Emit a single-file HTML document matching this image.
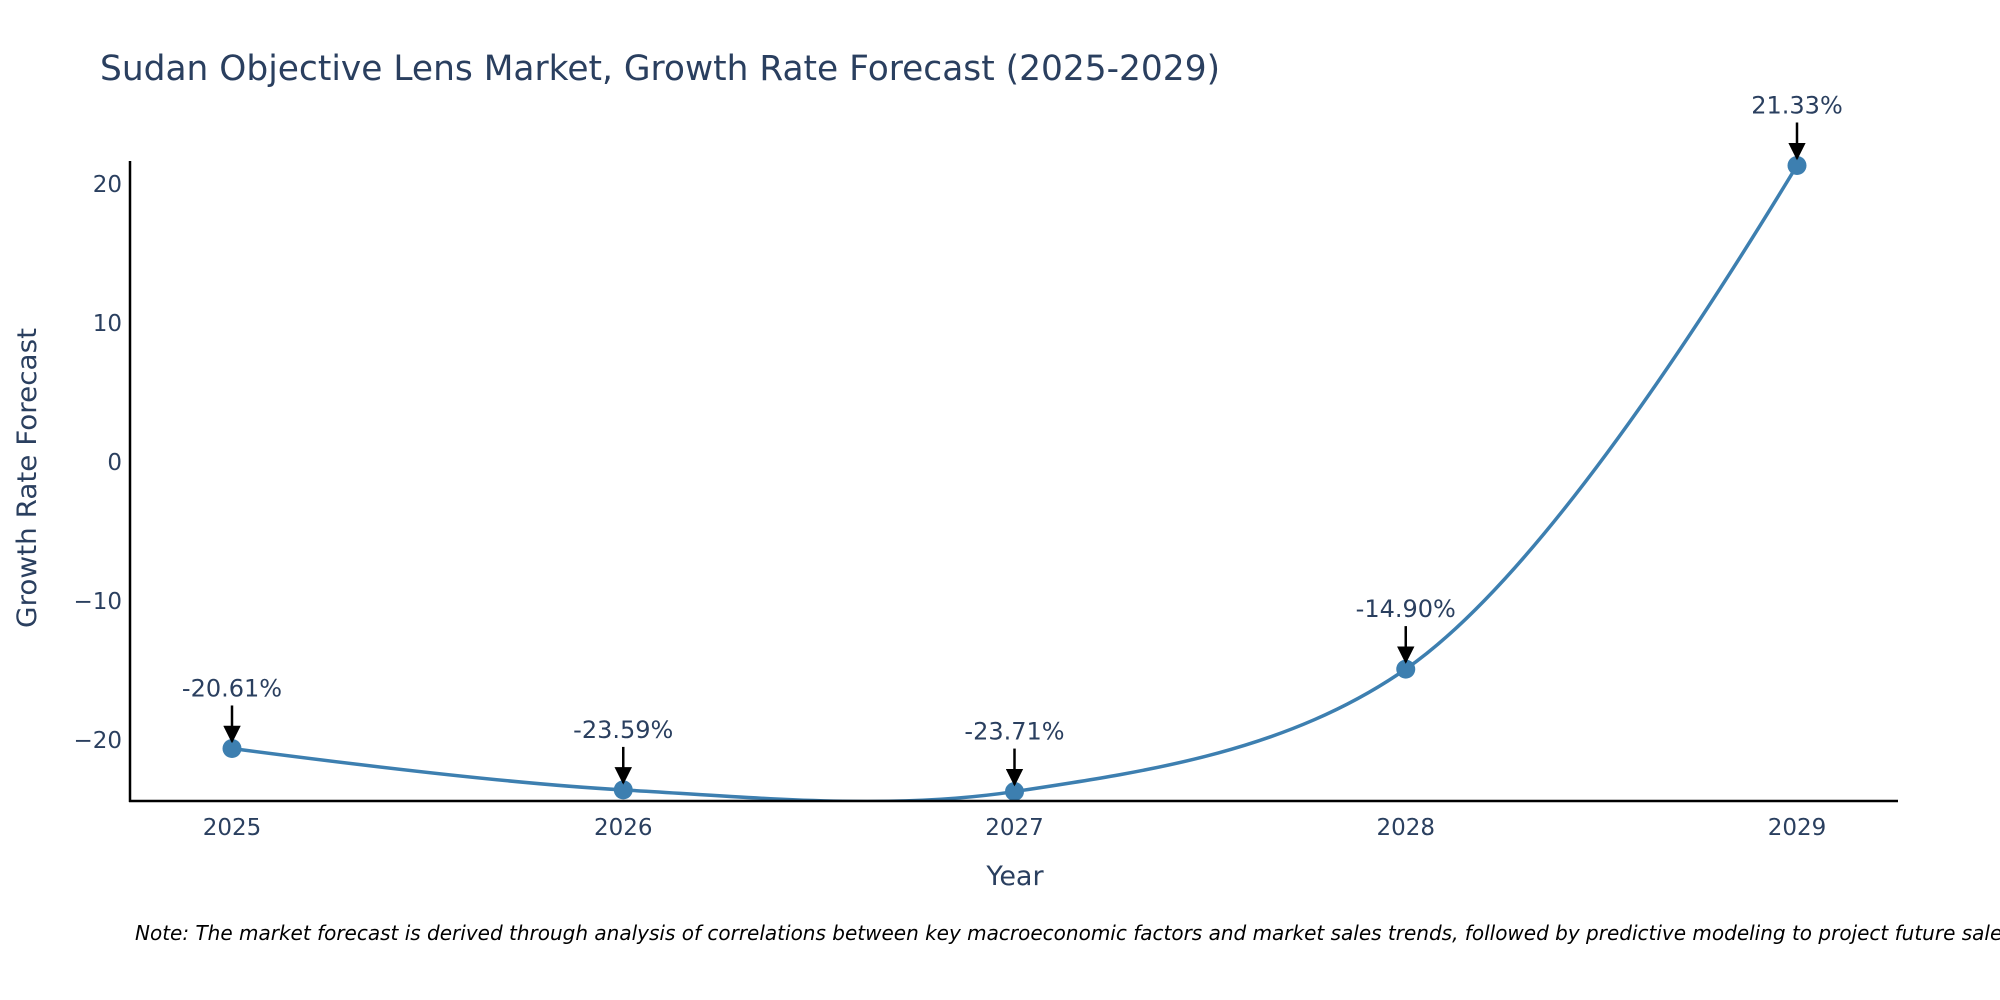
<!DOCTYPE html>
<html><head><meta charset="utf-8"><style>
html,body{margin:0;padding:0;background:#fff;overflow:hidden;}
svg{display:block;font-family:"DejaVu Sans","Liberation Sans",sans-serif;}
</style></head><body>
<svg id="chart" width="2000" height="1000" viewBox="0 0 2000 1000">
<defs><clipPath id="plotclip"><rect x="130" y="140" width="1770" height="660"/></clipPath>
<marker id="arrowhead" viewBox="0 0 10 10" refX="9" refY="5" markerWidth="7" markerHeight="7" markerUnits="strokeWidth" orient="auto"><path d="M0,0 L10,5 L0,10 z" fill="#000"/></marker></defs>
<text x="100" y="80" font-size="35" fill="#2a3f5f" textLength="1120" lengthAdjust="spacingAndGlyphs">Sudan Objective Lens Market, Growth Rate Forecast (2025-2029)</text>
<g id="yticks"></g>
<g id="xticks"></g>
<g id="series" clip-path="url(#plotclip)"></g>
<g id="marks"></g>
<line x1="130" y1="161" x2="130" y2="802" stroke="#000" stroke-width="2.5"/>
<line x1="129" y1="801" x2="1898" y2="801" stroke="#000" stroke-width="2.5"/>
<text x="1015" y="885" font-size="27" fill="#2a3f5f" text-anchor="middle">Year</text>
<text transform="translate(36,478) rotate(-90)" font-size="27" fill="#2a3f5f" text-anchor="middle" textLength="300" lengthAdjust="spacingAndGlyphs">Growth Rate Forecast</text>
<text x="135" y="940" font-size="20" font-style="italic" fill="#000">Note: The market forecast is derived through analysis of correlations between key macroeconomic factors and market sales trends, followed by predictive modeling to project future sales.</text>
</svg>
<script>
const years = [2025, 2026, 2027, 2028, 2029];
const values = [-20.61, -23.59, -23.71, -14.90, 21.33];
const labels = ["-20.61%", "-23.59%", "-23.71%", "-14.90%", "21.33%"];
const yTicks = [-20, -10, 0, 10, 20];
const NS = "http://www.w3.org/2000/svg";
const xs = y => 232 + (y - 2025) * 391.25;
const ys = v => 462 - v * 13.9;
function mk(tag, attrs, parent, txt){const e=document.createElementNS(NS,tag);for(const k in attrs)e.setAttribute(k,attrs[k]);if(txt!==undefined)e.textContent=txt;parent.appendChild(e);return e;}
const yt=document.getElementById('yticks'), xt=document.getElementById('xticks');
yTicks.forEach(t=>{
  const e=mk('text',{x:122,y:ys(t)+8,'font-size':23,fill:'#2a3f5f','text-anchor':'end'},yt,t<0?'\u2212'+Math.abs(t):String(t));
  
  
});
years.forEach(y=>{
  const e=mk('text',{x:xs(y),y:835,'font-size':23,fill:'#2a3f5f','text-anchor':'middle'},xt,String(y));
  
  
});
const pts=years.map((y,i)=>[xs(y),ys(values[i])]);
function tangent(p0,p1,p2,s){
  const dxa=p0[0]-p1[0],dya=p0[1]-p1[1],dxb=p2[0]-p1[0],dyb=p2[1]-p1[1];
  const d1a=Math.pow(dxa*dxa+dya*dya,0.25),d1b=Math.pow(dxb*dxb+dyb*dyb,0.25);
  const nx=(d1b*d1b*dxa-d1a*d1a*dxb)*s,ny=(d1b*d1b*dya-d1a*d1a*dyb)*s;
  const den1=3*d1b*(d1a+d1b),den2=3*d1a*(d1a+d1b);
  return [[p1[0]+nx/den1,p1[1]+ny/den1],[p1[0]-nx/den2,p1[1]-ny/den2]];
}
const tg=[];
for(let i=1;i<pts.length-1;i++)tg.push(tangent(pts[i-1],pts[i],pts[i+1],1));
let d=`M${pts[0]}Q${tg[0][0]} ${pts[1]}`;
for(let i=2;i<pts.length-1;i++)d+=`C${tg[i-2][1]} ${tg[i-1][0]} ${pts[i]}`;
d+=`Q${tg[pts.length-3][1]} ${pts[pts.length-1]}`;
const line=mk('path',{d:d,fill:'none',stroke:'#3d7fb0','stroke-width':3.5},document.getElementById('series'));


const mg=document.getElementById('marks');
pts.forEach((p,i)=>{
  const c=mk('circle',{cx:p[0],cy:p[1],r:9.5,fill:'#3d7fb0'},mg);
  
  
  const a=mk('line',{x1:p[0],y1:p[1]-43,x2:p[0],y2:p[1]-7,stroke:'#000','stroke-width':2.5,'marker-end':'url(#arrowhead)'},mg);
  
  
  const t=mk('text',{x:p[0],y:p[1]-52,'font-size':24,fill:'#2a3f5f','text-anchor':'middle'},mg,labels[i]);
  
  
});
</script>
</body></html>
